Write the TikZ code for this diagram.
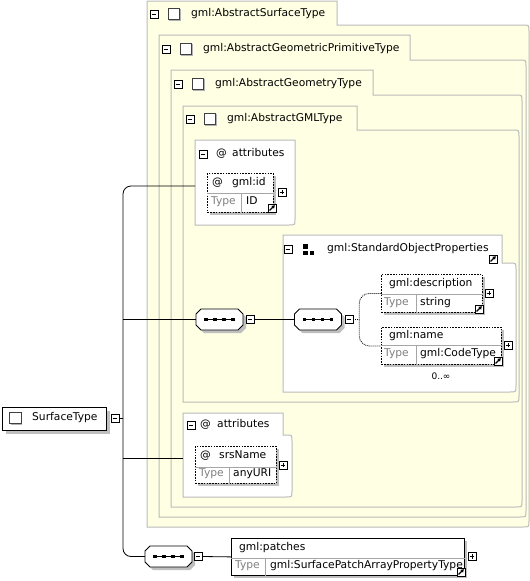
\documentclass[tikz,border=0pt]{standalone}
\usepackage{fontspec}
\setmainfont{DejaVu Sans}
\usetikzlibrary{calc, positioning, shadows, arrows.meta}
\definecolor{cream}{RGB}{255,255,228}
\definecolor{framegray}{RGB}{186,186,186}
\definecolor{typegray}{RGB}{128,128,128}
\tikzstyle{conn}=[line width=0.8pt, draw=black]
\tikzstyle{choiceline}=[conn, dash pattern=on 1pt off 1pt]
\tikzstyle{frameline}=[draw=framegray, line width=1pt]
\tikzstyle{divline}=[draw=black!35, line width=0.7pt]
\tikzstyle{lbl}=[inner sep=0pt, anchor=west, text height=7.6pt, text depth=2.2pt]
\tikzstyle{typelbl}=[lbl, text=typegray]
\tikzstyle{pmbox}=[draw, fill=white, minimum size=8pt, inner sep=0pt, line width=0.6pt]
\tikzstyle{minusbox}=[pmbox, path picture={\draw[line width=0.7pt] ([xshift=1.7pt]path picture bounding box.west) -- ([xshift=-1.7pt]path picture bounding box.east);}]
\tikzstyle{plusbox}=[pmbox, path picture={\draw[line width=0.7pt] ([xshift=1.7pt]path picture bounding box.west) -- ([xshift=-1.7pt]path picture bounding box.east) ([yshift=1.7pt]path picture bounding box.south) -- ([yshift=-1.7pt]path picture bounding box.north);}]
\tikzstyle{jump}=[pmbox, path picture={\draw[line width=1.1pt, -{Triangle[length=3pt, width=3.6pt]}] ([shift={(1.6pt,1.6pt)}]path picture bounding box.south west) -- ([shift={(-1.2pt,-1.2pt)}]path picture bounding box.north east);}]
\tikzstyle{chk}=[draw=black!75, fill=white, minimum size=11.5pt, inner sep=0pt, line width=0.6pt, drop shadow={shadow xshift=1.2pt, shadow yshift=-1.2pt, fill=black!30, opacity=1}]
\tikzstyle{elem}=[draw, fill=white, anchor=north west, inner sep=0pt, line width=0.8pt, dash pattern=on 1.6pt off 1.2pt, drop shadow={shadow xshift=3pt, shadow yshift=-3pt, fill=black!25, opacity=1}]
\tikzstyle{seqbox}=[rectangle, minimum width=47pt, minimum height=21pt, inner sep=0pt, path picture={\draw[line width=1.3pt] ([xshift=-13pt]path picture bounding box.center) -- ([xshift=13pt]path picture bounding box.center); \foreach \dx in {-13.5,-4.5,4.5,13.5} \fill[black] ([xshift=\dx pt]path picture bounding box.center) ++(-1.9pt,-1.9pt) rectangle ++(3.8pt,3.8pt);}]
\newcommand{\octpath}{(-23.5,-5.5) -- (-18.5,-10.5) -- (18.5,-10.5) -- (23.5,-5.5) -- (23.5,5.5) -- (18.5,10.5) -- (-18.5,10.5) -- (-23.5,5.5) -- cycle}
\newcommand{\seqnode}[3]{\fill[black!25, shift={(#2+3,#3+3)}] \octpath; \draw[line width=0.8pt, fill=white, shift={(#2,#3)}] \octpath; \node[seqbox] (#1) at (#2,#3) {};}
\newcommand{\tabframe}[7]{\draw[frameline, fill=#1] (#2,#3) -- (#4,#3) -- (#4,#5) -- ({#6-6},#5) .. controls (#6,#5) .. (#6,{#5+6}) -- (#6,{#7-6}) .. controls (#6,#7) .. ({#6-6},#7) -- (#2,#7) -- cycle;}

\begin{document}
\begin{tikzpicture}[x=1pt, y=-1pt, font=\fontsize{10.7}{12}\selectfont]
\useasboundingbox (0,0) rectangle (530,581);

\tabframe{cream}{147}{1}{337}{25}{529}{527}
\tabframe{cream}{159}{35}{410}{60}{526}{517}
\tabframe{cream}{171}{70}{373}{95}{522}{507}
\tabframe{cream}{183}{106}{357}{130}{519}{402}
\draw[frameline, fill=white] (195,140) -- (295,140) -- (295,219) .. controls (295,225) .. (289,225) -- (195,225) -- cycle;
\tabframe{white}{283}{235}{502}{263}{516}{392}
\tabframe{white}{183}{413}{283}{435}{292}{497}

\node[minusbox] (m1) at (154,14) {}; \node[chk] (k1) at (174,14) {}; \node[lbl] (t1) at (191,14) {gml:AbstractSurfaceType};
\node[minusbox] (m2) at (166,49) {}; \node[chk] (k2) at (186,49) {}; \node[lbl] (t2) at (203,49) {gml:AbstractGeometricPrimitiveType};
\node[minusbox] (m3) at (178,84) {}; \node[chk] (k3) at (198,84) {}; \node[lbl] (t3) at (215,84) {gml:AbstractGeometryType};
\node[minusbox] (m4) at (190,119) {}; \node[chk] (k4) at (210,119) {}; \node[lbl] (t4) at (227,119) {gml:AbstractGMLType};

\node[minusbox] (ma1) at (203,154) {}; \node[lbl] (aat1) at (216,154) {@}; \node[lbl] (an1) at (232,154) {attributes};
\node[elem, minimum width=66pt, minimum height=39pt] (idb) at (207,173) {};
\draw[divline] ($(idb.north west)+(0,20)$) -- ($(idb.north east)+(0,20)$);
\draw[divline] ($(idb.north west)+(34,20)$) -- ($(idb.south west)+(34,0)$);
\node[lbl] (idat) at (212,183) {@}; \node[lbl] (idn) at (232,183) {gml:id};
\node[typelbl] (idt) at (211,202) {Type}; \node[lbl] (idv) at (246,202) {ID};
\node[plusbox] (idp) at (282,192) {}; \node[jump] (idj) at (272,208) {};

\node[minusbox] (msop) at (288,249) {};
\fill (303,244) rectangle (307.5,248.5); \fill (303,250.5) rectangle (307.5,255); \fill (309.5,250.5) rectangle (314,255);
\node[lbl] (sopn) at (327,249) {gml:StandardObjectProperties}; \node[jump] (sopj) at (493,259) {};

\node[elem, minimum width=101pt, minimum height=38pt] (descb) at (381,274) {};
\draw[divline] ($(descb.north west)+(0,20)$) -- ($(descb.north east)+(0,20)$);
\draw[divline] ($(descb.north west)+(35,20)$) -- ($(descb.south west)+(35,0)$);
\node[lbl] (descn) at (389,284) {gml:description};
\node[typelbl] (desct) at (384,303) {Type}; \node[lbl] (descv) at (420,303) {string};
\node[plusbox] (descp) at (489,293) {}; \node[jump] (descj) at (479,309) {};

\node[elem, minimum width=120pt, minimum height=37pt] (nameb) at (381,327) {};
\draw[divline] ($(nameb.north west)+(0,18)$) -- ($(nameb.north east)+(0,18)$);
\draw[divline] ($(nameb.north west)+(35,18)$) -- ($(nameb.south west)+(35,0)$);
\node[lbl] (namen) at (389,336) {gml:name};
\node[typelbl] (namet) at (384,354) {Type}; \node[lbl] (namev) at (420,354) {gml:CodeType};
\node[plusbox] (namep) at (508,345) {}; \node[jump] (namej) at (498,361) {};
\node[inner sep=0pt, font=\fontsize{9}{10}\selectfont] (occ) at (441,376) {0..∞};

\node[minusbox] (ma2) at (191,425) {}; \node[lbl] (aat2) at (200,425) {@}; \node[lbl] (an2) at (217,425) {attributes};
\node[elem, minimum width=81pt, minimum height=37pt] (srsb) at (195,446) {};
\draw[divline] ($(srsb.north west)+(0,21)$) -- ($(srsb.north east)+(0,21)$);
\draw[divline] ($(srsb.north west)+(34,21)$) -- ($(srsb.south west)+(34,0)$);
\node[lbl] (srsat) at (200,456) {@}; \node[lbl] (srsn) at (219,456) {srsName};
\node[typelbl] (srst) at (199,474) {Type}; \node[lbl] (srsv) at (233,474) {anyURI};
\node[plusbox] (srsp) at (283,465) {};

\node[elem, solid, minimum width=233pt, minimum height=37pt] (patb) at (231,538) {};
\draw[divline] ($(patb.north west)+(0,20)$) -- ($(patb.north east)+(0,20)$);
\draw[divline] ($(patb.north west)+(34,20)$) -- ($(patb.south west)+(34,0)$);
\node[lbl] (patn) at (239,548) {gml:patches};
\node[typelbl] (patt) at (235,566) {Type}; \node[lbl] (patv) at (270,566) {gml:SurfacePatchArrayPropertyType};
\node[plusbox] (patp) at (472,556.5) {}; \node[jump] (patj) at (461,572) {};

\node[elem, solid, line width=1pt, minimum width=104pt, minimum height=23pt] (stb) at (2,407) {};
\node[chk] (stk) at (15.5,418) {}; \node[lbl] (stn) at (32,418) {SurfaceType};
\node[minusbox] (stm) at (115,418) {};

\seqnode{seqA}{219.5}{319.5} \node[minusbox] (seqAm) at (250,319.5) {};
\seqnode{seqB}{318}{319.5} \node[minusbox] (seqBm) at (349,319.5) {};
\seqnode{seqC}{168.5}{556.5} \node[minusbox] (seqCm) at (198,556.5) {};

\coordinate (trunk) at (123,418); \coordinate (a1w) at (195,186); \coordinate (a2w) at (183,458);
\coordinate (chc) at ($(seqBm.east)+(6,0)$);
\draw[conn] (stm.east) -- (trunk);
\draw[conn, rounded corners=8pt] (trunk) |- (a1w);
\draw[conn] (trunk |- seqA.west) -- (seqA.west);
\draw[conn] (trunk |- a2w) -- (a2w);
\draw[conn, rounded corners=8pt] (trunk) |- (seqC.west);
\draw[conn] (seqAm.east) -- (seqB.west);
\draw[conn] (seqCm.east) -- (patb.west);
\draw[choiceline] (seqBm.east) -- (chc);
\draw[choiceline, rounded corners=10pt] (chc) |- (descb.west);
\draw[choiceline, rounded corners=10pt] (chc) |- (nameb.west);
\end{tikzpicture}
\end{document}
